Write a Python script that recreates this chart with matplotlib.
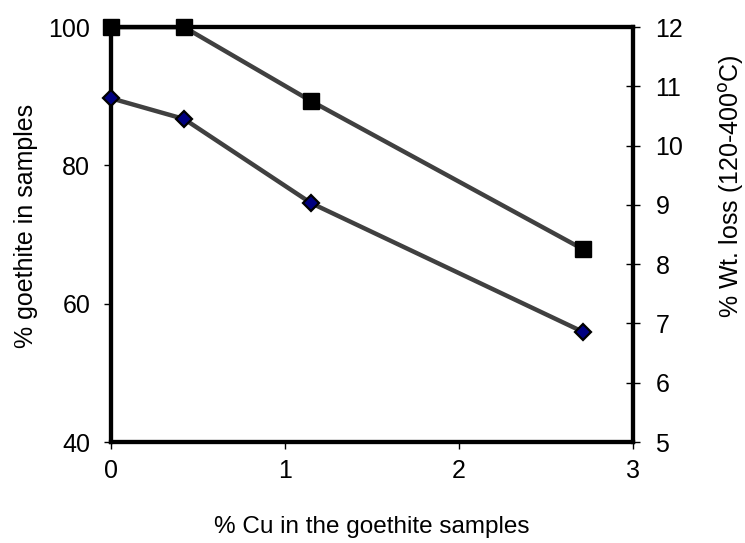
import matplotlib.pyplot as plt

# data
cu_pct = [0.0, 0.42, 1.15, 2.71]
goethite_pct = [100.0, 100.0, 89.3, 67.9]
wt_loss = [10.8, 10.45, 9.03, 6.86]

x_ticks = [0, 1, 2, 3]
left_ticks = [40, 60, 80, 100]
right_ticks = [5, 6, 7, 8, 9, 10, 11, 12]

plt.rcParams['font.family'] = ['Liberation Sans', 'DejaVu Sans']

fig = plt.figure(figsize=(7.45, 5.43), dpi=100)
ax = fig.add_axes([0.149, 0.186, 0.701, 0.764])
ax2 = ax.twinx()

ax.plot(cu_pct, goethite_pct, color='#404040', lw=3.2, marker='s', ms=11,
        mfc='black', mec='black', clip_on=False, zorder=5)
ax2.plot(cu_pct, wt_loss, color='#404040', lw=3.2, marker='D', ms=8.5,
         mfc='#000080', mec='black', mew=1.6, clip_on=False, zorder=5)

ax.set_xlim(0, 3)
ax.set_ylim(40, 100)
ax2.set_ylim(5, 12)
ax.set_xticks(x_ticks)
ax.set_yticks(left_ticks)
ax2.set_yticks(right_ticks)

for a in (ax, ax2):
    for s in a.spines.values():
        s.set_linewidth(3)
        s.set_color('black')

ax.tick_params(axis='x', direction='out', length=5, width=1, pad=7, labelsize=18)
ax.tick_params(axis='y', direction='out', length=5, width=1, pad=10, labelsize=18)
ax2.tick_params(axis='y', direction='inout', length=10, width=1, pad=11, labelsize=18)

ax.set_xlabel('% Cu in the goethite samples', fontsize=17.5, labelpad=24)
ax.set_ylabel('% goethite in samples', fontsize=18)
ax2.set_ylabel('% Wt. loss (120-400$^{\\mathrm{o}}$C)', fontsize=18)
ax.yaxis.set_label_coords(-0.140, 0.52)
ax2.yaxis.set_label_coords(1.161, 0.617)

fig.savefig('out.png', dpi=100)
